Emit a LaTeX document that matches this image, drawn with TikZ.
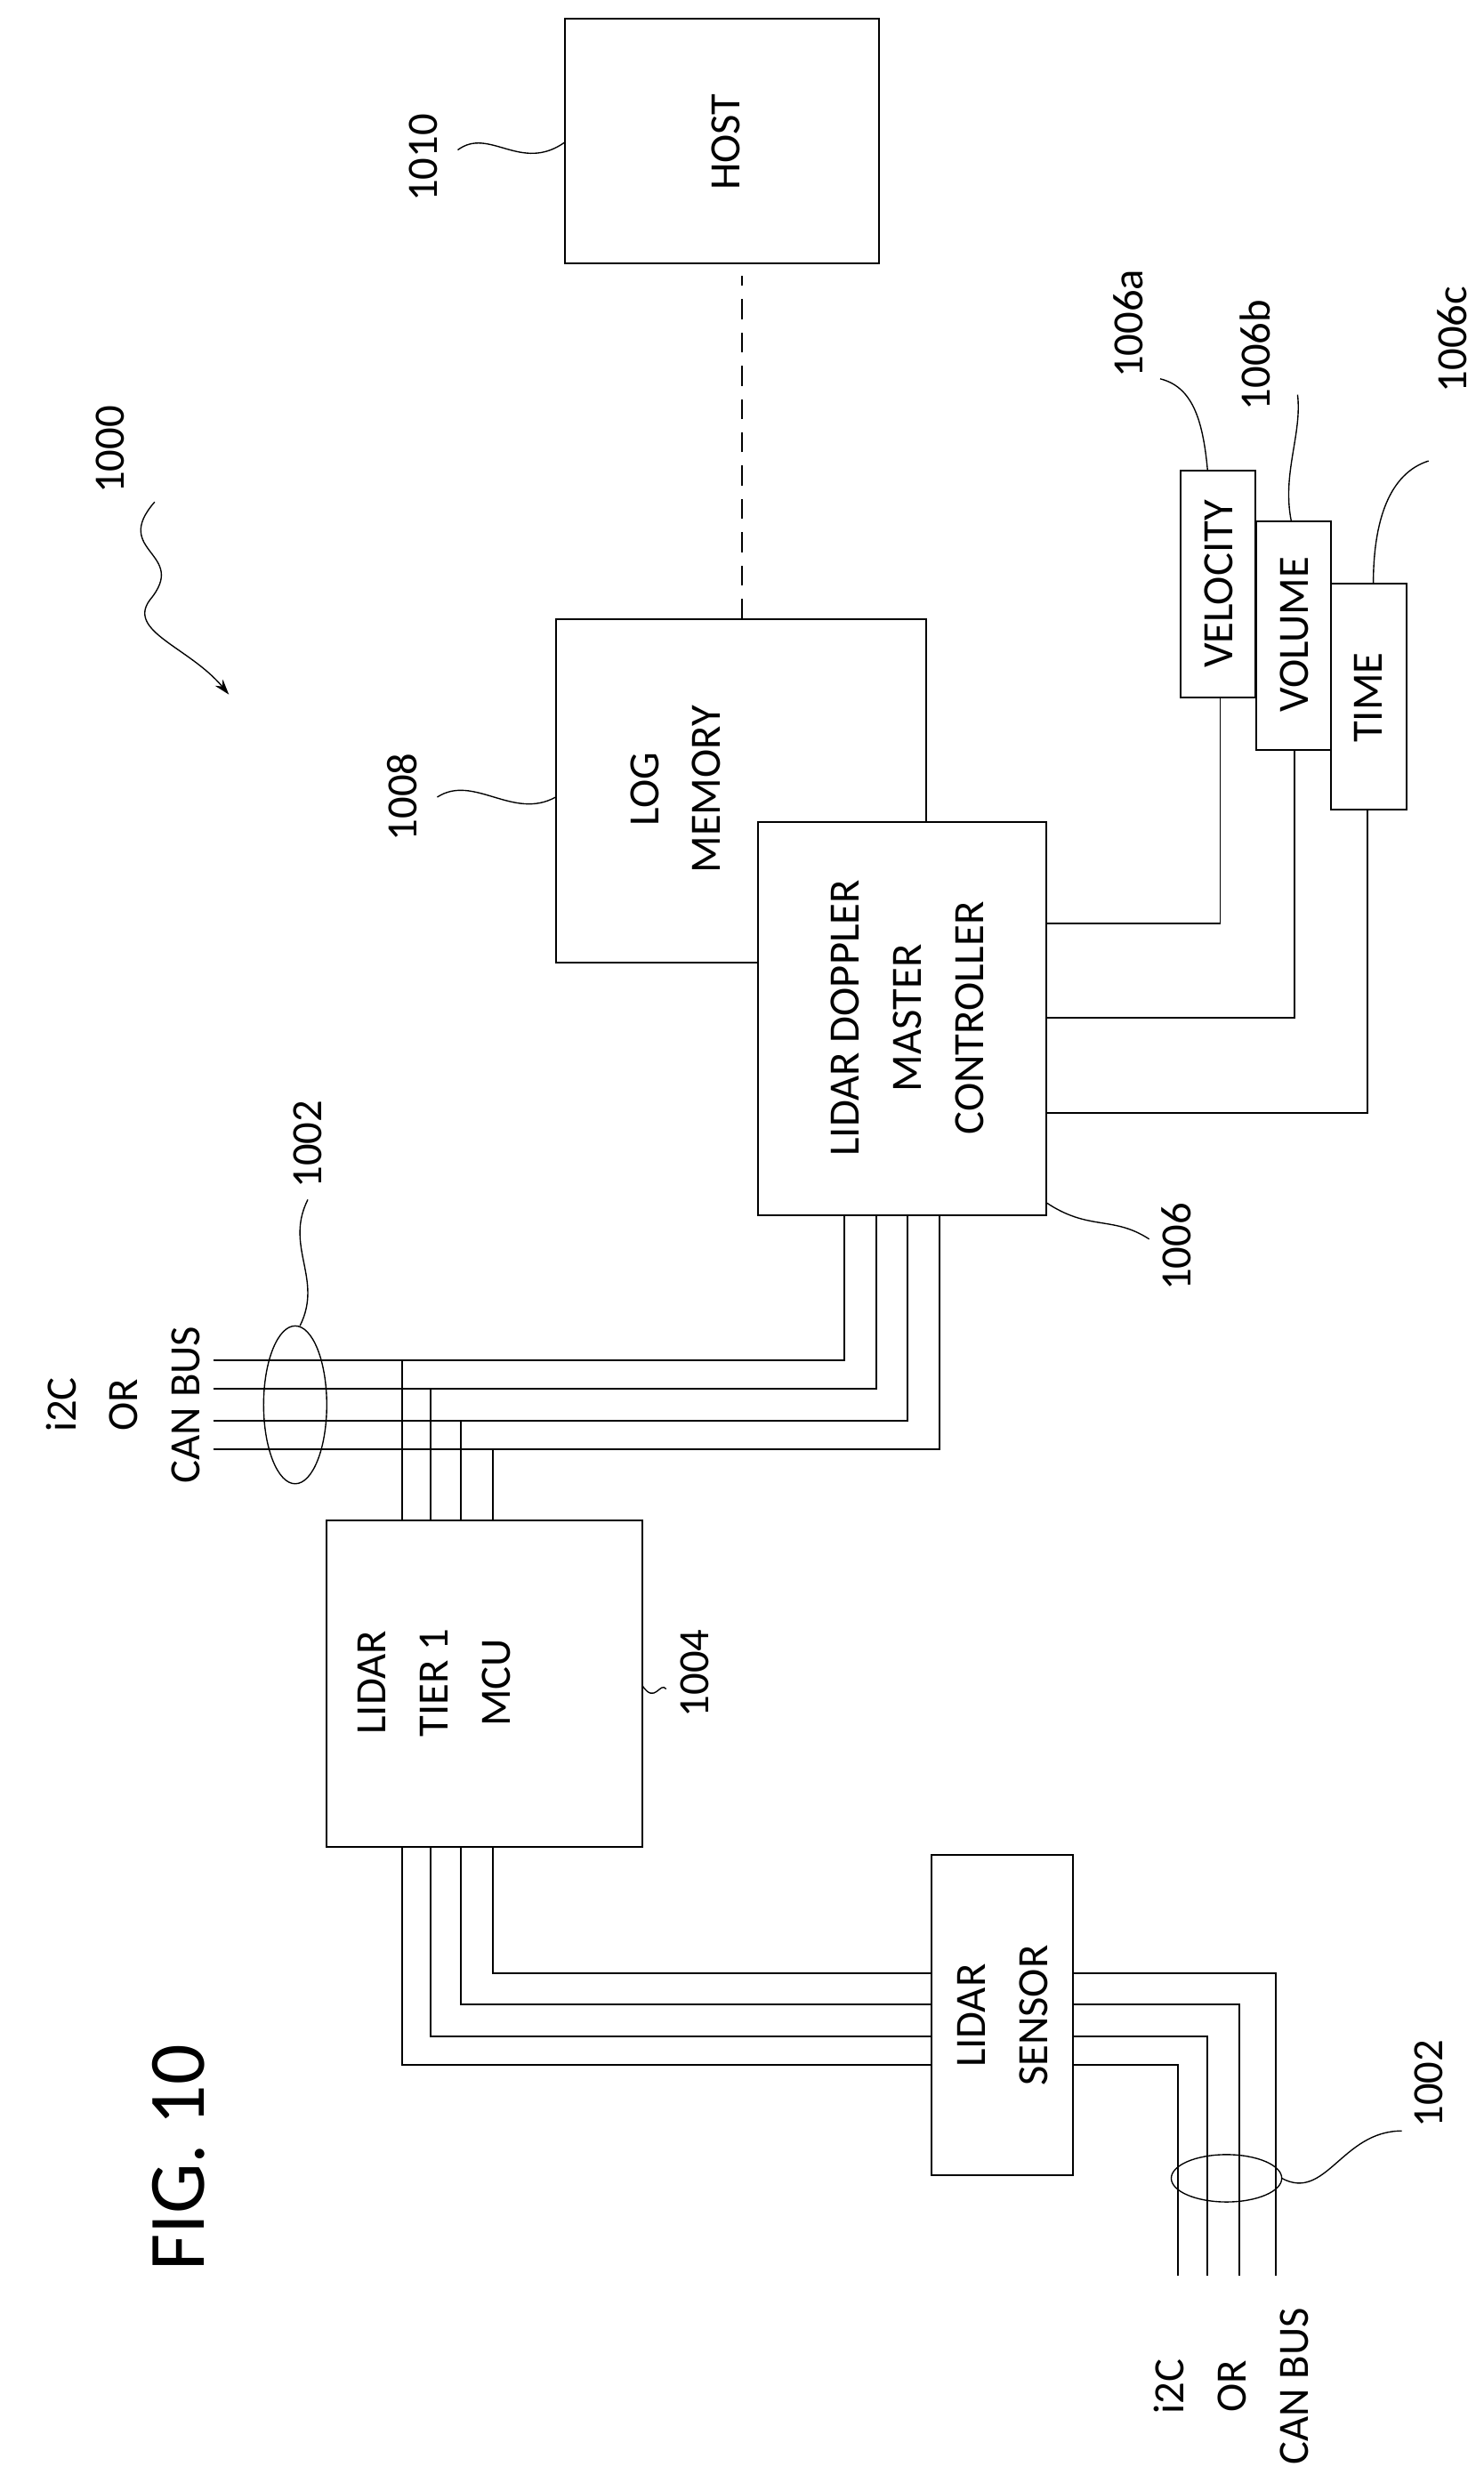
\documentclass[tikz,border=0pt]{standalone}
\usepackage{fontspec}
\setmainfont{Carlito}
\usetikzlibrary{arrows.meta}
\begin{document}
\begin{tikzpicture}[x=0.05cm,y=-0.05cm]
  \tikzset{BoxStyle/.style = {
    draw          = black,
    line width    = 1.6pt,
    inner sep     = 0pt
    }
  }
  \tikzset{TextStyle/.style = {
    rotate        = 90,
    align         = center,
    inner sep     = 0pt,
    font          = \fontsize{39}{56}\selectfont
    }
  }
  \tikzset{WireStyle/.style = {
    draw          = black,
    line width    = 1.6pt
    }
  }
  \tikzset{LeadStyle/.style = {
    draw          = black,
    line width    = 1.1pt
    }
  }
  \useasboundingbox (0,0) rectangle (940,1568);

  % boxes
  \draw[BoxStyle] (358,12) rectangle (557,167);
  \node[TextStyle] (host) at (460,90) {HOST};
  \draw[BoxStyle,fill=white] (352,392) rectangle (587,610);
  \node[TextStyle] (logmem) at (428,500) {LOG\\MEMORY};
  \draw[BoxStyle,fill=white] (480,521) rectangle (663,770);
  \node[TextStyle] (ctrl) at (575,645) {LIDAR DOPPLER\\MASTER\\CONTROLLER};
  \draw[BoxStyle] (748,298) rectangle (795,442);
  \node[TextStyle] (vel) at (772,370) {VELOCITY};
  \draw[BoxStyle] (796,330) rectangle (843,475);
  \node[TextStyle] (vol) at (820,402) {VOLUME};
  \draw[BoxStyle] (843,370) rectangle (891,513);
  \node[TextStyle] (time) at (867,442) {TIME};
  \draw[BoxStyle] (207,963) rectangle (407,1170);
  \node[TextStyle] (mcu) at (275,1066) {LIDAR\\TIER 1\\MCU};
  \draw[BoxStyle] (590,1175) rectangle (680,1378);
  \node[TextStyle] (sensor) at (635,1277) {LIDAR\\SENSOR};

  % host link
  \draw[WireStyle,dash pattern=on 18pt off 12pt] (470,392) -- (470,175);

  % controller to outputs
  \draw[WireStyle] (663,585) -| (773,442);
  \draw[WireStyle] (663,645) -| (820,475);
  \draw[WireStyle] (663,705) -| (866,513);

  % upper bus
  \foreach \y/\xc/\xm in {862/535/255, 880/555/273, 900/575/292, 918/595/312} {
    \draw[WireStyle] (135,\y) -| (\xc,770);
    \draw[WireStyle] (\xm,\y) -- (\xm,963);
  }
  \draw[LeadStyle] (187,890) ellipse (20 and 50);

  % lower bus
  \foreach \xm/\y/\xo in {312/1250/808, 292/1270/785, 273/1290/765, 255/1308/746} {
    \draw[WireStyle] (\xm,1170) |- (590,\y);
    \draw[WireStyle] (680,\y) -| (\xo,1442);
  }
  \draw[LeadStyle] (777,1380) ellipse (35 and 15);

  % bus texts
  \node[TextStyle] (busA) at (78,890) {i2C\\OR\\CAN BUS};
  \node[TextStyle] (busB) at (780,1512) {i2C\\OR\\CAN BUS};

  % reference numerals
  \node[TextStyle] (n1010) at (268,100) {1010};
  \draw[LeadStyle] (290,95) .. controls (310,80) and (330,110) .. (358,90);
  \node[TextStyle] (n1008) at (255,505) {1008};
  \draw[LeadStyle] (277,505) .. controls (300,490) and (325,520) .. (352,505);
  \node[TextStyle] (n1006) at (745,790) {1006};
  \draw[LeadStyle] (663,762) .. controls (690,780) and (705,770) .. (728,785);
  \node[TextStyle] (n1006a) at (715,205) {1006a};
  \draw[LeadStyle] (735,240) .. controls (755,245) and (762,265) .. (765,298);
  \node[TextStyle] (n1006b) at (795,225) {1006b};
  \draw[LeadStyle] (822,250) .. controls (825,275) and (812,300) .. (818,330);
  \node[TextStyle] (n1006c) at (920,215) {1006c};
  \draw[LeadStyle] (905,292) .. controls (880,300) and (870,330) .. (870,370);
  \node[TextStyle] (n1002a) at (195,725) {1002};
  \draw[LeadStyle] (195,760) .. controls (180,790) and (205,810) .. (190,840);
  \node[TextStyle] (n1004) at (440,1060) {1004};
  \draw[LeadStyle] (407,1068) .. controls (415,1080) and (418,1065) .. (422,1070);
  \node[TextStyle] (n1002b) at (905,1320) {1002};
  \draw[LeadStyle] (812,1380) .. controls (840,1395) and (850,1350) .. (888,1350);
  \node[TextStyle] (n1000) at (70,285) {1000};
  \draw[LeadStyle,-{Stealth[length=14pt,width=9pt]}] (98,318)
    .. controls (70,350) and (120,350) .. (95,380)
    .. controls (80,400) and (120,410) .. (145,440);

  \node[rotate=90,font=\fontsize{72}{80}\selectfont] (fig) at (113,1367) {FIG. 10};
\end{tikzpicture}
\end{document}
